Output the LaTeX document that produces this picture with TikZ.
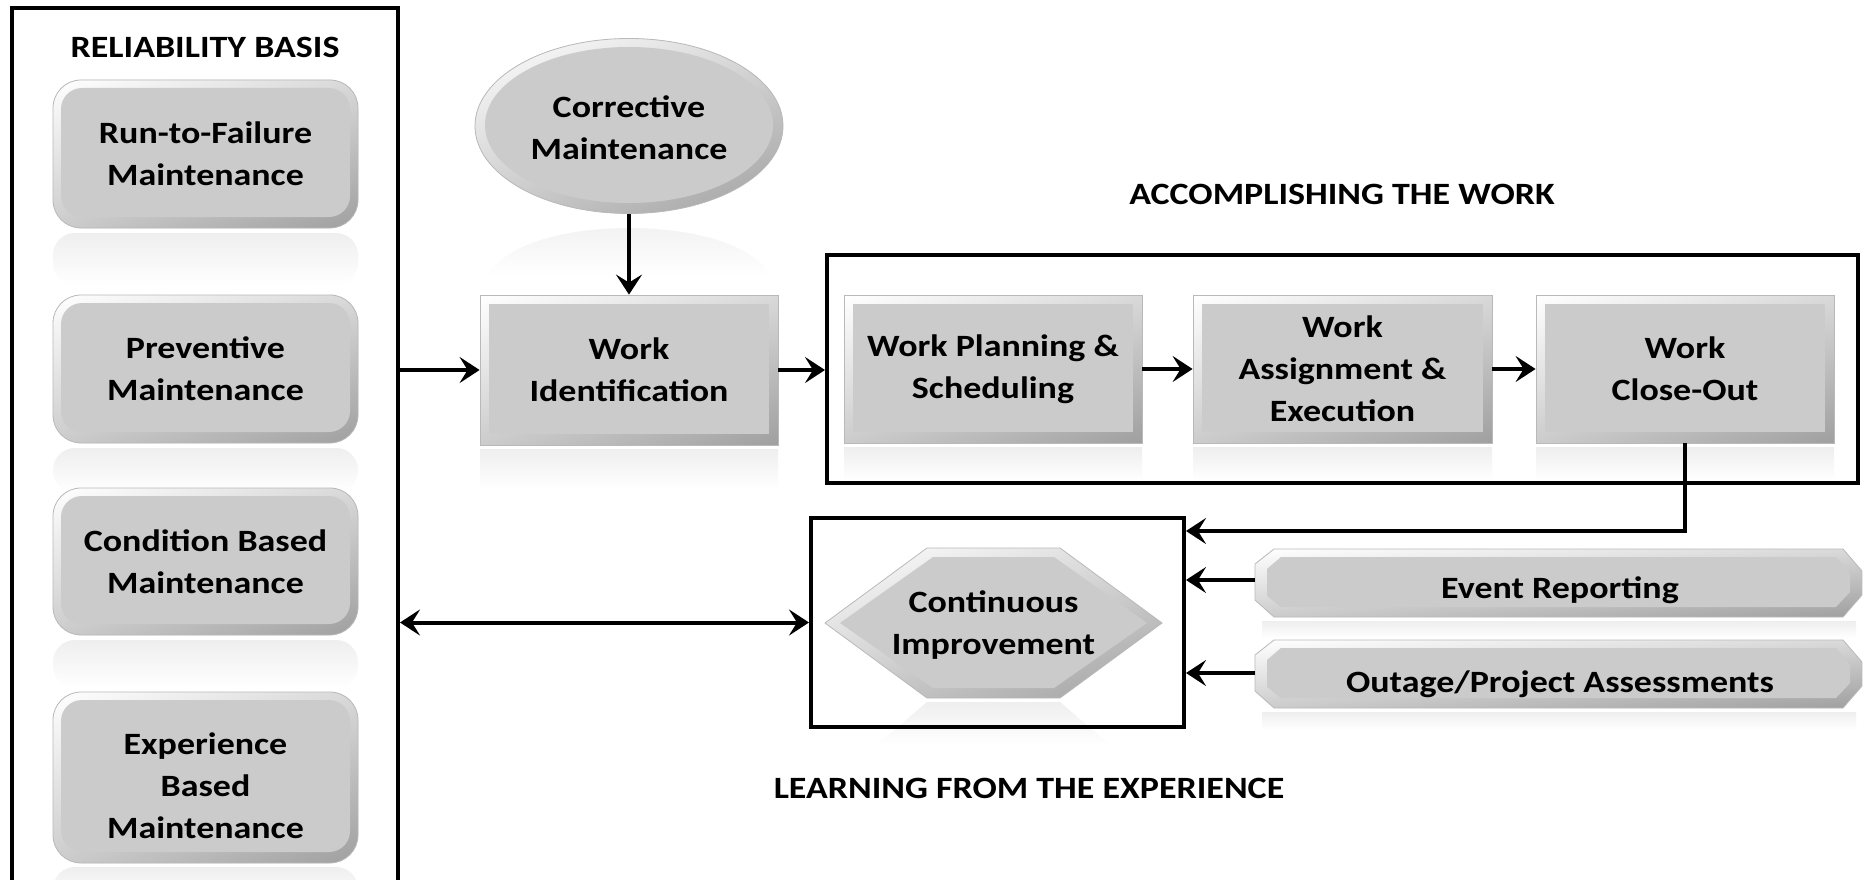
\documentclass[tikz,border=0pt]{standalone}
\usepackage{fontspec}
\setmainfont{Carlito}[FakeStretch=1.16]
\usetikzlibrary{shapes.geometric,arrows.meta,shadings}
\definecolor{face}{RGB}{203,203,203}
\begin{document}
\begin{tikzpicture}[x=1pt,y=-1pt,
  every node/.style={font=\bfseries\fontsize{31}{42}\selectfont, align=center, inner sep=0pt},
  bevshade/.style={upper left=white, upper right=gray!30, lower left=gray!40, lower right=gray!75},
  refl/.style={top color=gray!13, bottom color=white},
  bevbox/.style={rectangle, draw=gray!55, line width=0.8pt, fill=face,
    minimum width=298pt, minimum height=148pt,
    path picture={
      \shade[bevshade] (path picture bounding box.north west) rectangle (path picture bounding box.south east);
      \fill[face] ([shift={(9pt,-9pt)}]path picture bounding box.north west) rectangle ([shift={(-9pt,11pt)}]path picture bounding box.south east);
    }},
  rbox/.style={rectangle, rounded corners=28pt, draw=gray!55, line width=0.8pt, fill=face,
    minimum width=305pt, minimum height=148pt,
    path picture={
      \shade[bevshade] (path picture bounding box.north west) rectangle (path picture bounding box.south east);
      \fill[face, rounded corners=21pt] ([shift={(8pt,-8pt)}]path picture bounding box.north west) rectangle ([shift={(-8pt,11pt)}]path picture bounding box.south east);
    }},
  ellbox/.style={ellipse, draw=gray!55, line width=0.8pt, fill=face,
    minimum width=308pt, minimum height=175pt,
    path picture={
      \shade[bevshade] (path picture bounding box.north west) rectangle (path picture bounding box.south east);
      \fill[face] ([yshift=1pt]path picture bounding box.center) ellipse [x radius=144pt, y radius=78pt];
    }},
  frame/.style={rectangle, draw=black, line width=4pt},
  arr/.style={line width=4pt, -{Stealth[length=20pt, width=26pt, inset=8pt]}},
  darr/.style={line width=4pt, {Stealth[length=20pt, width=26pt, inset=8pt]}-{Stealth[length=20pt, width=26pt, inset=8pt]}},
  shape rim/.style={draw=gray!55, line width=0.8pt, bevshade}
]
\useasboundingbox (0,0) rectangle (1863,880);
\clip (0,0) rectangle (1863,880);
\fill[white] (0,0) rectangle (1863,880);

% reflections
\shade[refl, rounded corners=22pt] (53,233) rectangle (358,285);
\shade[refl, rounded corners=22pt] (53,448) rectangle (358,492);
\shade[refl, rounded corners=22pt] (53,640) rectangle (358,688);
\shade[refl, rounded corners=22pt] (53,867) rectangle (358,900);
\shade[refl] (480,449) rectangle (778,490);
\shade[refl] (844,447) rectangle (1142,481);
\shade[refl] (1193,447) rectangle (1492,481);
\shade[refl] (1536,447) rectangle (1834,481);
\shade[refl] (488,276) .. controls (520,212) and (738,212) .. (770,276) -- cycle;
\shade[refl] (927,702) -- (1060,702) -- (1110,745) -- (877,745) -- cycle;
\shade[refl] (1262,621) rectangle (1856,638);
\shade[refl] (1262,712) rectangle (1856,730);

% frames
\node[frame, minimum width=386pt, minimum height=900pt] (rb) at (205,458) {};
\node[frame, minimum width=1031pt, minimum height=228pt] (acc) at (1342.5,369) {};
\node[frame, minimum width=373pt, minimum height=209pt] (ci) at (997.5,622.5) {};

% headings
\node (rbt) at (205,47) {RELIABILITY BASIS};
\node (acct) at (1342,194) {ACCOMPLISHING THE WORK};
\node (lrn) at (1029,788) {LEARNING FROM THE EXPERIENCE};

% reliability basis boxes
\node[rbox] (rtf) at (205.5,154) {Run-to-Failure\\Maintenance};
\node[rbox] (pm) at (205.5,369) {Preventive\\Maintenance};
\node[rbox, minimum height=147pt] (cbm) at (205.5,561.5) {Condition Based\\Maintenance};
\node[rbox, minimum height=171pt] (ebm) at (205.5,777.5) {};
\node (ebmt) at (205.5,786) {Experience\\Based\\Maintenance};

% corrective and work identification
\node[ellbox] (cm) at (629,126) {};
\node (cmt) at (629,128) {Corrective\\Maintenance};
\node[bevbox, minimum height=150pt] (wi) at (629,370) {Work\\Identification};

% accomplishing the work
\node[bevbox] (wp) at (993,369) {Work Planning \&\\Scheduling};
\node[bevbox, minimum width=299pt] (wa) at (1342.5,369) {Work\\Assignment \&\\Execution};
\node[bevbox] (wc) at (1685,369) {Work\\Close-Out};

% continuous improvement hexagon
\path[shape rim] (825,623) -- (927,548) -- (1060,548) -- (1162,623) -- (1060,698) -- (927,698) -- cycle;
\fill[face] (840,623) -- (933,557) -- (1054,557) -- (1147,623) -- (1054,688) -- (933,688) -- cycle;
\node (cih) at (993.5,625) {Continuous\\Improvement};

% chamfered bars
\path[shape rim] (1255,564) -- (1274,549) -- (1843,549) -- (1862,571) -- (1862,595) -- (1843,617) -- (1274,617) -- (1255,600) -- cycle;
\fill[face] (1267,569) -- (1281,557) -- (1836,557) -- (1850,574) -- (1850,592) -- (1836,607) -- (1281,607) -- (1267,596) -- cycle;
\node[minimum width=607pt, minimum height=68pt] (er) at (1558.5,580) {};
\node (ert) at (1560,590) {Event Reporting};

\path[shape rim] (1255,655) -- (1274,640) -- (1843,640) -- (1862,662) -- (1862,686) -- (1843,708) -- (1274,708) -- (1255,691) -- cycle;
\fill[face] (1267,660) -- (1281,648) -- (1836,648) -- (1850,665) -- (1850,683) -- (1836,698) -- (1281,698) -- (1267,687) -- cycle;
\node[minimum width=607pt, minimum height=68pt] (oa) at (1558.5,673) {};
\node (oat) at (1560,684) {Outage/Project Assessments};

% connectors
\draw[arr] (cm.south) -- (wi.north);
\draw[arr] (rb.east |- wi.west) -- (wi.west);
\draw[arr] (wi.east) -- (acc.west |- wi.east);
\draw[arr] (wp.east) -- (wa.west);
\draw[arr] (wa.east) -- (wc.west);
\draw[arr] (wc.south) |- ([yshift=-15pt]ci.north east);
\draw[arr] (er.west) -- (ci.east |- er.west);
\draw[arr] (oa.west) -- (ci.east |- oa.west);
\draw[darr] (rb.east |- ci.west) -- (ci.west);
\end{tikzpicture}
\end{document}
